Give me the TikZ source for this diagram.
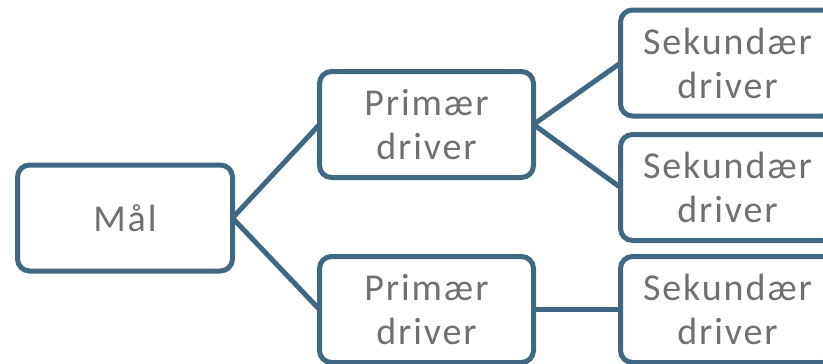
\documentclass[tikz,border=0pt]{standalone}
\usepackage{fontspec}
\setmainfont[LetterSpace=5]{Carlito}
\definecolor{boxblue}{RGB}{62,104,131}
\definecolor{txtgray}{RGB}{112,112,112}
\tikzset{
  drvbox/.style={draw=boxblue, line width=5pt, rounded corners=12pt, rectangle,
    fill=white, outer sep=0pt, inner sep=0pt, minimum width=214pt, minimum height=106pt,
    align=center, text=txtgray, font=\fontsize{38}{44}\selectfont},
  conn/.style={draw=boxblue, line width=5pt}
}
\begin{document}
\begin{tikzpicture}[x=1pt,y=-1pt]
\useasboundingbox (0,0) rectangle (823,364);
\clip (0,0) rectangle (823,364);
\node[drvbox, minimum width=215pt] (mal) at (125,218) {Mål};
\node[drvbox] (p1) at (426.5,124.5) {Primær\\driver};
\node[drvbox] (p2) at (426.5,309.5) {Primær\\driver};
\node[drvbox] (s1) at (727.5,63) {Sekundær\\driver};
\node[drvbox] (s2) at (727.5,187.5) {Sekundær\\driver};
\node[drvbox] (s3) at (727.5,309.5) {Sekundær\\driver};
\draw[conn] (mal.east) -- (p1.west);
\draw[conn] (mal.east) -- (p2.west);
\draw[conn] (p1.east) -- (s1.west);
\draw[conn] (p1.east) -- (s2.west);
\draw[conn] (p2.east) -- (s3.west);
\end{tikzpicture}
\end{document}
